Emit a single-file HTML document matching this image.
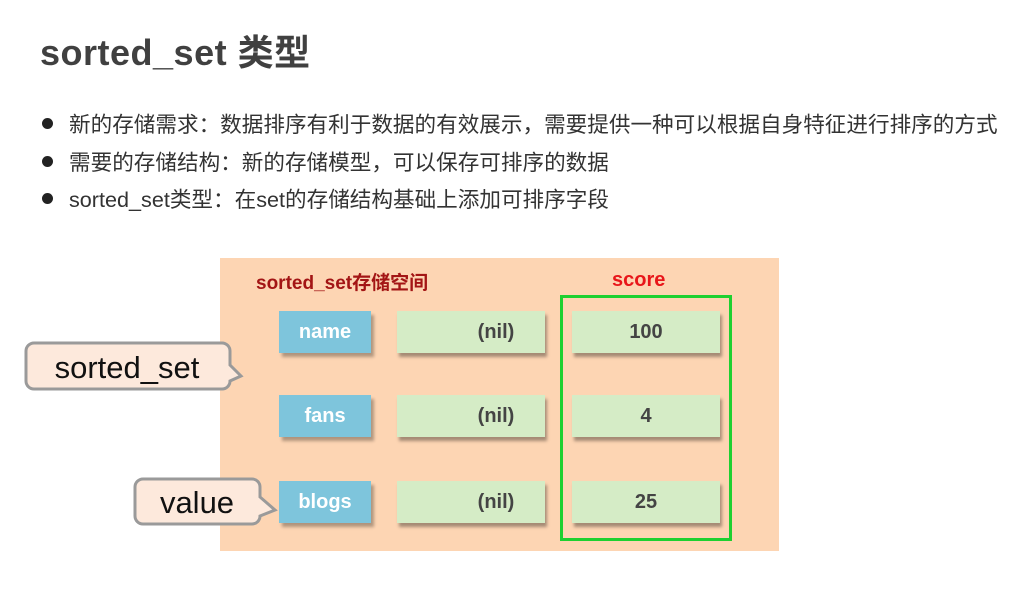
<!DOCTYPE html>
<html><head><meta charset="utf-8"><style>
body{margin:0;width:1035px;height:594px;background:#fff;position:relative;overflow:hidden;font-family:"Liberation Sans","Noto Sans CJK SC",sans-serif}
.a{position:absolute}
.t{left:40px;top:24px;font-size:36px;font-weight:bold;color:#404040;letter-spacing:0.5px}
.b{left:40px;font-size:21.6px;color:#333;white-space:nowrap}
.b:before{content:"";display:inline-block;width:11px;height:11px;border-radius:50%;background:#222;margin:0 16px 3px 2px}
.k{background:#7ec5dc;color:#fff;font-weight:bold;font-size:20px;text-align:center;line-height:42px;box-shadow:3px 4px 3px rgba(0,0,0,.3);width:92px;height:42px;left:279px}
.g{background:#d5ecc6;color:#444;font-weight:bold;font-size:20px;text-align:center;line-height:42px;box-shadow:2px 4px 3px rgba(0,0,0,.35);width:148px;height:42px}
</style></head><body>
<div class="a t">sorted_set 类型</div>
<div class="a b" style="top:108px">新的存储需求：数据排序有利于数据的有效展示，需要提供一种可以根据自身特征进行排序的方式</div>
<div class="a b" style="top:146px">需要的存储结构：新的存储模型，可以保存可排序的数据</div>
<div class="a b" style="top:183px">sorted_set类型：在set的存储结构基础上添加可排序字段</div>
<div class="a" style="left:220px;top:258px;width:559px;height:293px;background:#fdd5b3"></div>
<div class="a" style="left:256px;top:268px;font-size:19px;font-weight:bold;color:#a31515">sorted_set存储空间</div>
<div class="a" style="left:612px;top:269px;font-size:20px;font-weight:bold;color:#e8161a">score</div>
<div class="a" style="left:560px;top:295px;width:166px;height:240px;border:3px solid #1ed030"></div>
<div class="a k" style="top:311px">name</div>
<div class="a k" style="top:395px">fans</div>
<div class="a k" style="top:481px">blogs</div>
<div class="a g" style="left:397px;top:311px;text-indent:50px">(nil)</div>
<div class="a g" style="left:397px;top:395px;text-indent:50px">(nil)</div>
<div class="a g" style="left:397px;top:481px;text-indent:50px">(nil)</div>
<div class="a g" style="left:572px;top:311px">100</div>
<div class="a g" style="left:572px;top:395px">4</div>
<div class="a g" style="left:572px;top:481px">25</div>
<svg class="a" style="left:0;top:0" width="1035" height="594">
<path d="M34,343 H222 a8,8 0 0 1 8,8 V365 L241,376 L230,381 V381 a8,8 0 0 1 -8,8 H34 a8,8 0 0 1 -8,-8 V351 a8,8 0 0 1 8,-8Z" fill="#fde9dc" stroke="#9a9a9a" stroke-width="3"/>
<path d="M143,479 H252 a8,8 0 0 1 8,8 V497 L275,510 L260,516 V516 a8,8 0 0 1 -8,8 H143 a8,8 0 0 1 -8,-8 V487 a8,8 0 0 1 8,-8Z" fill="#fde9dc" stroke="#9a9a9a" stroke-width="3"/>
<text x="127" y="378" font-size="31" text-anchor="middle" fill="#111" font-family="Liberation Sans,sans-serif">sorted_set</text>
<text x="197" y="513" font-size="31" text-anchor="middle" fill="#111" font-family="Liberation Sans,sans-serif">value</text>
</svg>
</body></html>
